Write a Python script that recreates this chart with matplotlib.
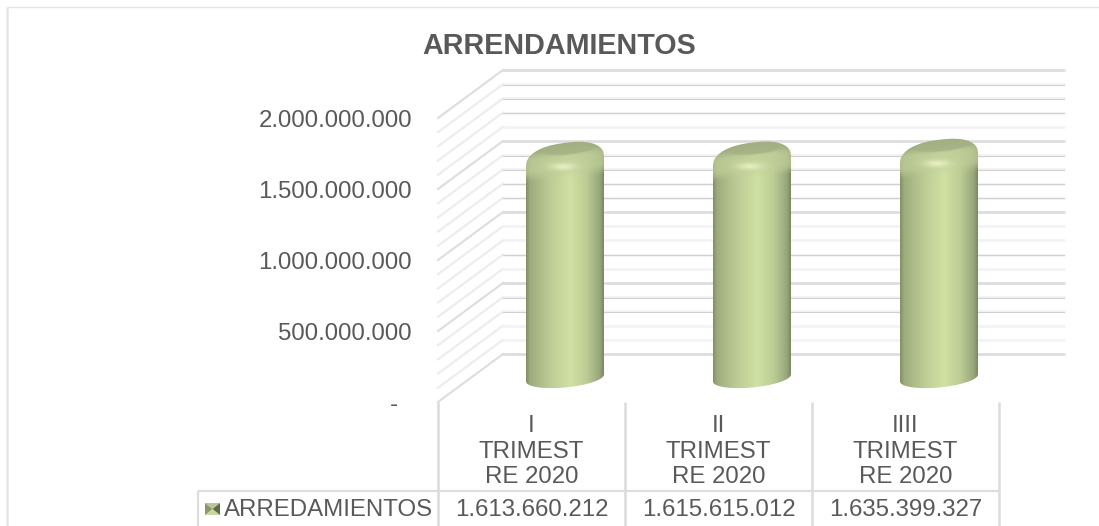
import numpy as np
import matplotlib
matplotlib.use('Agg')
import matplotlib.pyplot as plt
from matplotlib.path import Path
from matplotlib.patches import Polygon
from matplotlib.transforms import IdentityTransform
from matplotlib.colors import to_rgb

# data
categories = ['I\nTRIMEST\nRE 2020', 'II\nTRIMEST\nRE 2020', 'IIII\nTRIMEST\nRE 2020']
values = [1613660212, 1615615012, 1635399327]
value_labels = ['1.613.660.212', '1.615.615.012', '1.635.399.327']
series_name = 'ARREDAMIENTOS'
title = 'ARRENDAMIENTOS'
y_ticks = [0, 500000000, 1000000000, 1500000000, 2000000000]
y_labels = ['-', '500.000.000', '1.000.000.000', '1.500.000.000', '2.000.000.000']

W, H = 1099, 526
TXT = '#595959'
GRID = '#dddddd'
FS = 17.3
plt.rcParams['font.family'] = ['Liberation Sans', 'DejaVu Sans']

fig = plt.figure(figsize=(W / 100, H / 100), dpi=100)
ax = fig.add_axes([0, 0, 1, 1])
ax.axis('off')

# x: category 0 sits at px 531.5, one category is 187 px
# y: value 0 sits at px row 402, 1e9 is 142 px
xlim = ((0 - 531.5) / 187, (W - 531.5) / 187)
ylim = (-(H - 402) / 142 * 1e9, 402 / 142 * 1e9)
ax.set_xlim(xlim)
ax.set_ylim(ylim)
xscale = 187
yscale = 142 / 1e9


def px(col, row):
    # picture position to data position, only for the frame around the plot
    return (col - 531.5) / xscale, (402 - row) / yscale


# chart frame
ax.plot(*zip(px(7, 7), px(W, 7)), color='#e6e6e6', lw=1.0, solid_capstyle='butt')
ax.plot(*zip(px(7, 7), px(7, H)), color='#e6e6e6', lw=1.8, solid_capstyle='butt')

# walls: depth of the 3d box is 65 px across and 48 px up
depth_x = 65 / xscale
depth_y = 48 / yscale
left_x = -0.5
right_x = left_x + 626 / xscale
thin_rows = [1.9, 1.8, 1.7, 1.4, 1.3, 1.2, 1.1, 0.7, 0.4, 0.3]
for k in range(21):
    v = k * 1e8
    major = k % 5 == 0
    y_back = v + depth_y
    x_back = left_x + depth_x
    if major:
        ax.plot([left_x, x_back], [v, y_back], color=GRID, lw=1.5)
        ax.plot([x_back, right_x], [y_back, y_back], color=GRID, lw=2.0, solid_capstyle='round')
    else:
        ax.plot([left_x, x_back], [v, y_back], color='#e4e4e4', lw=1.4)
        ax.plot([left_x, x_back], [v, y_back], color='#f8f8f8', lw=0.5)
        ax.plot([x_back, right_x], [y_back, y_back], color='#f3f3f3', lw=2.0, solid_capstyle='round')
        if round(v / 1e9, 1) in thin_rows:
            ax.plot([x_back, right_x], [y_back - 0.5 / yscale, y_back - 0.5 / yscale], color='#d0d0d0', lw=0.8)

# y tick labels
for t, lab in zip(y_ticks, y_labels):
    tx = left_x - 26 / xscale if t else left_x - 40 / xscale
    ax.text(tx, t - 3 / yscale, lab, ha='right', va='center', fontsize=FS, color=TXT)

ax.text(*px(559.5, 46), title, ha='center', va='center', fontsize=20.7, fontweight='bold', color=TXT)

# data table
edges = [left_x + i for i in range(4)]
row_top = px(0, 491)[1]
row_label = px(0, 510)[1]
for e in edges:
    ax.plot([e, e], [0, ylim[0]], color=GRID, lw=1.9, solid_capstyle='butt')
ax.plot([px(198, 0)[0], edges[-1]], [row_top, row_top], color=GRID, lw=1.6, solid_capstyle='butt')
ax.plot([px(198, 0)[0]] * 2, [row_top, ylim[0]], color=GRID, lw=1.6, solid_capstyle='butt')

for i, (c, vl) in enumerate(zip(categories, value_labels)):
    ax.text(i, px(0, 451.5)[1], c, ha='center', va='center', fontsize=FS, color=TXT,
            linespacing=1.21, multialignment='center')
    ax.text(i, row_label, vl, ha='center', va='center', fontsize=FS, color=TXT)

ax.text(*px(224, 510), series_name, ha='left', va='center', fontsize=FS, color=TXT)

# legend key, a small bevelled square
kx0, ky0 = px(205, 515)
kx1, ky1 = px(220, 503)
kxm, kym = (kx0 + kx1) / 2, (ky0 + ky1) / 2
for pts, col in [([(kx0, ky1), (kx1, ky1), (kxm, kym)], '#b9c795'),
                 ([(kx0, ky0), (kx1, ky0), (kxm, kym)], '#c9d8a0'),
                 ([(kx0, ky0), (kx0, ky1), (kxm, kym)], '#8a9869'),
                 ([(kx1, ky0), (kx1, ky1), (kxm, kym)], '#5f6b47')]:
    ax.add_patch(Polygon(pts, closed=True, fc=col, ec='none'))

# cylinders, drawn in pixels around the point the data gives
half_w = 39.0
mid_x = 33.5 / xscale
mid_y = 24 / yscale
stops_u = [0.0, 0.05, 0.3, 0.57, 0.78, 0.95, 1.0]
stops_c = np.array([to_rgb(c) for c in ['#838f68', '#9dac7c', '#bccb95', '#d0e1a3',
                                        '#bccc94', '#98a77b', '#7a8860']])


def bar_path(h):
    xs = np.linspace(-half_w, half_w, 161)
    top = h - 12 + 0.128 * xs + 18 * (1 - np.abs(xs / half_w) ** 2.4) ** (1 / 2.2)
    bot = 0.09 * xs - 9.5 * np.sqrt(np.clip(1 - (xs / half_w) ** 2, 0, 1))
    return xs, top, bot


def smooth(a, b, x):
    t = np.clip((x - a) / (b - a), 0, 1)
    return t * t * (3 - 2 * t)


for i, val in enumerate(values):
    base = ax.transData.transform((i + mid_x, mid_y))
    tip = ax.transData.transform((i + mid_x, val + mid_y))
    h = tip[1] - base[1]
    xs, top, bot = bar_path(h)
    verts = np.vstack([np.column_stack([xs, bot]), np.column_stack([xs[::-1], top[::-1]])]) + base
    path = Path(verts)

    gx = np.arange(-half_w - 1, half_w + 1.01, 0.5)
    gy = np.arange(-14, h + 12, 0.5)
    X, Y = np.meshgrid(gx, gy)
    u = np.clip((X + half_w) / (2 * half_w), 0, 1)
    rgb = np.dstack([np.interp(u, stops_u, stops_c[:, k]) for k in range(3)])
    shade = rgb / to_rgb('#d0e1a3')

    # bevel round the top edge
    S = Y - h + 9 - 0.1 * X
    cap = smooth(-22, -9, S)[..., None]
    cap_col = np.array(to_rgb('#c4d39c')) * (0.55 + 0.45 * shade ** 0.6)
    rgb = rgb * (1 - cap) + cap_col * cap

    # upper rim goes a bit darker towards the outline
    rim = smooth(0, 15, S)[..., None]
    rgb = rgb * (1 - 0.2 * rim)

    # darker flat disc on top
    E = ((X - 3) / 30) ** 2 + ((Y - h - 0.5 - 0.1 * X) / 6.5) ** 2
    disc = (1 - smooth(0.55, 1.25, E))[..., None] * 0.85
    rgb = rgb * (1 - disc) + np.array(to_rgb('#a3b184')) * disc

    # bright spot under the disc
    G = np.exp(-((X + 2) / 13) ** 2 - ((Y - h + 17.5) / 3.6) ** 2)[..., None]
    rgb = rgb * (1 - 0.85 * G) + np.array(to_rgb('#eaf3c4')) * 0.85 * G

    im = ax.imshow(np.clip(rgb, 0, 1), origin='lower', aspect='auto', interpolation='bilinear',
                   extent=(base[0] + gx[0], base[0] + gx[-1], base[1] + gy[0], base[1] + gy[-1]),
                   transform=IdentityTransform(), zorder=4)
    im.set_clip_path(path, IdentityTransform())

ax.set_xlim(xlim)
ax.set_ylim(ylim)
fig.savefig('out.png', dpi=100, facecolor='white')
